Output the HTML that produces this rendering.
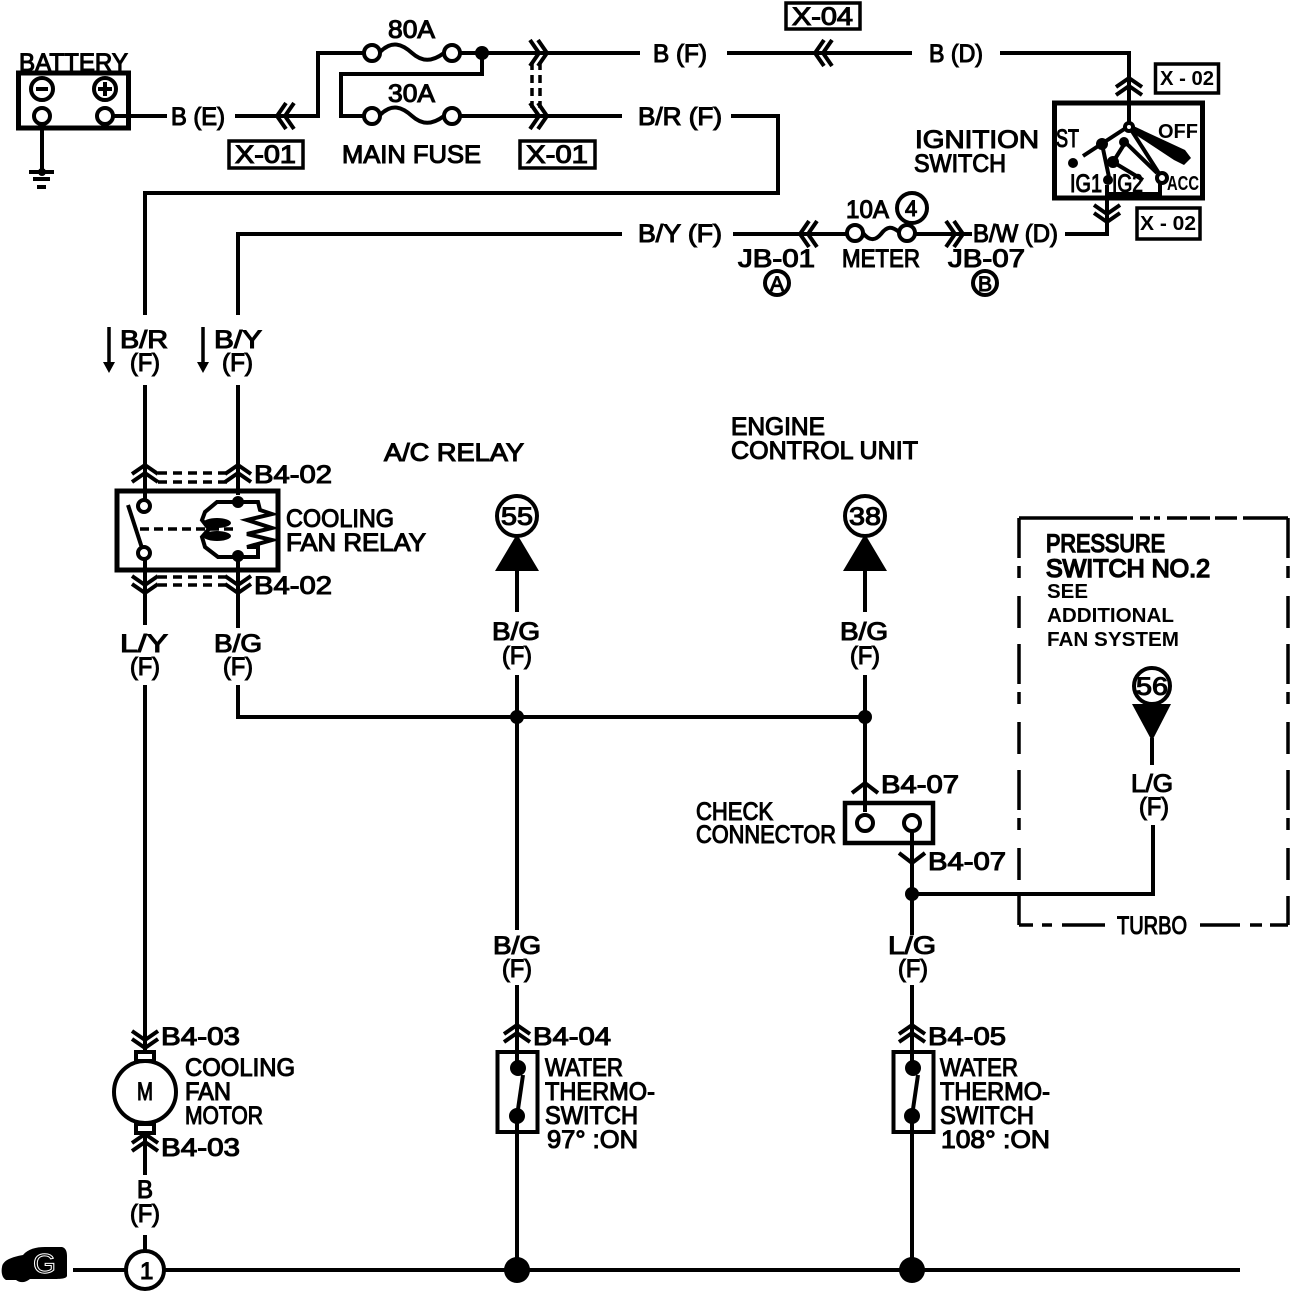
<!DOCTYPE html>
<html><head><meta charset="utf-8"><style>
html,body{margin:0;padding:0;background:#fff}
svg{display:block}
text{font-family:"Liberation Sans",sans-serif;font-weight:400;font-size:25px;fill:#000;stroke:#000;stroke-width:1.1px}
text.s{font-size:20px;font-weight:700;stroke:none}
.w{fill:none;stroke:#000;stroke-width:4;stroke-linejoin:miter}
.t{fill:none;stroke:#000;stroke-width:3.5}
.b{fill:none;stroke:#000;stroke-width:5}
.c{fill:#fff;stroke:#000;stroke-width:4}
.d{fill:#000;stroke:none}
</style></head><body>
<svg width="1312" height="1292" viewBox="0 0 1312 1292" xmlns="http://www.w3.org/2000/svg">
<defs>
<g id="u2"><path class="w" d="M-13 4 L0 -5 L13 4 M-13 12 L0 3 L13 12"/></g>
<g id="u1"><path class="w" d="M-13 5 L0 -5 L13 5"/></g>
</defs>
<rect width="1312" height="1292" fill="#fff"/>

<!-- battery -->
<rect class="b" x="18.5" y="73" width="110" height="55"/>
<circle class="c" cx="42" cy="89" r="11"/><path class="w" d="M36 89H48"/>
<circle class="c" cx="105" cy="89" r="11"/><path class="w" d="M98 89H112M105 82V96"/>
<circle class="c" cx="42" cy="116" r="8"/><circle class="c" cx="105" cy="116" r="8"/>
<path class="w" d="M42 124V172M29 172H54M33 179H50M37 187H46"/>
<circle class="d" cx="42" cy="172" r="4"/>
<path class="w" d="M113 116H167M235 116H318V53H364"/>
<use href="#u2" transform="translate(282,116) rotate(-90)"/>

<!-- main fuses -->
<circle class="c" cx="372" cy="53" r="8"/><circle class="c" cx="452" cy="53" r="8"/>
<path class="w" d="M380 52C392 40 402 44 412 53C422 62 432 62 444 53"/>
<circle class="c" cx="372" cy="116" r="8"/><circle class="c" cx="452" cy="116" r="8"/>
<path class="w" d="M380 115C392 103 402 107 412 116C422 125 432 125 444 116"/>
<path class="w" d="M460 53H640M482 53V74H341V116H364M460 116H622"/>
<circle class="d" cx="482" cy="53" r="7"/>
<path class="t" stroke-width="2.5" stroke-dasharray="8 5" d="M532 62V108M540 62V108"/>
<use href="#u2" transform="translate(542,53) rotate(90)"/>
<use href="#u2" transform="translate(542,116) rotate(90)"/>

<path class="w" d="M727 53H912"/>
<use href="#u2" transform="translate(820,53) rotate(-90)"/>
<path class="w" d="M1000 53H1129V125"/>
<use href="#u2" transform="translate(1129,83)"/>
<path class="w" d="M731 116H778V193H145V315"/>
<path class="w" d="M622 234H238V315"/>
<path class="w" d="M733 234H847M915 234H972M1065 234H1107V185"/>
<use href="#u2" transform="translate(805,234) rotate(-90)"/>
<use href="#u2" transform="translate(958,234) rotate(90)"/>
<use href="#u2" transform="translate(1107,217) rotate(180)"/>
<circle class="c" cx="855" cy="233" r="8"/><circle class="c" cx="907" cy="233" r="8"/>
<path class="w" d="M863 233C870 242 876 240 881 234C887 226 892 226 899 232"/>
<circle cx="912" cy="208" r="15" fill="#fff" stroke="#000" stroke-width="4"/>
<circle cx="777" cy="283" r="12" fill="#fff" stroke="#000" stroke-width="4"/>
<circle cx="985" cy="283" r="12" fill="#fff" stroke="#000" stroke-width="4"/>

<!-- ignition -->
<rect x="1054.5" y="103" width="148" height="95" fill="none" stroke="#000" stroke-width="5"/>
<path class="w" d="M1129 126L1083 156M1102 144L1110 182M1130 128L1160 175"/>
<path class="d" d="M1127 123L1185 150L1191 158L1184 165L1174 160L1127 129Z"/>
<path class="w" stroke-width="5" d="M1125 142L1157 173M1125 143L1113 162L1143 180"/>
<circle class="d" cx="1102" cy="144" r="6"/><circle class="d" cx="1124" cy="142" r="5"/><circle class="d" cx="1113" cy="162" r="6"/><circle class="d" cx="1108" cy="180" r="5"/>
<circle class="c" cx="1129" cy="127" r="4"/><circle class="c" cx="1162" cy="178" r="5"/>
<circle class="d" cx="1073" cy="163" r="5"/>
<path class="w" d="M1160 183V196M1108 194H1160"/>

<rect class="t" x="1155.5" y="64" width="63" height="29"/>
<rect class="t" x="1137" y="208" width="63" height="31"/>
<rect class="t" x="229" y="141" width="74" height="27"/>
<rect class="t" x="520" y="141" width="75" height="27"/>
<rect class="t" x="786" y="3" width="74" height="26"/>

<!-- down arrows -->
<path class="t" d="M109 327V368M203 327V368"/>
<path class="d" d="M103 362H115L109 373ZM197 362H209L203 373Z"/>

<!-- relay -->
<path class="w" d="M145 385V500M238 385V495M145 559V625M238 555V628"/>
<use href="#u2" transform="translate(145,470)"/>
<use href="#u2" transform="translate(238,470)"/>
<use href="#u2" transform="translate(145,588) rotate(180)"/>
<use href="#u2" transform="translate(238,588) rotate(180)"/>
<path class="t" stroke-width="2.5" stroke-dasharray="9 6" d="M158 473H228M158 482H228M158 577H228M158 585H228"/>
<rect x="117" y="491" width="161" height="79" fill="none" stroke="#000" stroke-width="5"/>
<circle class="c" cx="144" cy="506" r="6"/><circle class="c" cx="144" cy="553" r="6"/>
<path class="w" stroke-width="4" d="M128 505L142 548"/>
<path class="t" stroke-width="2.5" stroke-dasharray="9 5" d="M140 529H236"/>
<path class="w" d="M238 502H217L205 512L202 520L209 529L202 537L205 547L218 557H258V547H247L272 540L247 534L272 528L247 520L272 514L260 510L258 502H238"/>
<ellipse class="d" cx="217" cy="523" rx="14" ry="5"/><ellipse class="d" cx="217" cy="536" rx="14" ry="5"/>
<circle class="d" cx="238" cy="502" r="6"/><circle class="d" cx="238" cy="556" r="6"/>

<!-- main harness -->
<path class="w" d="M145 685V1030M238 685V717H865M517 612V570M865 612V570M517 675V930M517 985V1262M865 675V812M912 832V935M912 985V1262M912 894H1153V825M145 1134V1175M145 1235V1255"/>
<circle class="d" cx="517" cy="717" r="7"/><circle class="d" cx="865" cy="717" r="7"/><circle class="d" cx="912" cy="894" r="7"/>
<circle cx="517" cy="516" r="20" fill="#fff" stroke="#000" stroke-width="4"/>
<circle cx="865" cy="516" r="20" fill="#fff" stroke="#000" stroke-width="4"/>
<path class="d" d="M517 534L539 571H495ZM865 534L887 571H843Z"/>

<!-- turbo box -->
<path class="t" stroke-width="3" d="M1019 518H1133M1140 518H1150M1154 518H1160M1167 518H1187M1190 518H1210M1215 518H1237M1243 518H1288"/>
<path class="t" stroke-width="3" stroke-dasharray="40 8 12 18 32 16" d="M1288 518V925M1019 518V925"/>
<path class="t" stroke-width="3" d="M1200 925H1240M1250 925H1262M1270 925H1288M1105 925H1062M1052 925H1042M1033 925H1019"/>
<circle cx="1152" cy="686" r="18" fill="#fff" stroke="#000" stroke-width="4"/>
<path class="d" d="M1132 704H1171L1152 741Z"/>
<path class="w" d="M1152 738V765"/>

<!-- check connector -->
<use href="#u1" transform="translate(865,788)"/>
<use href="#u1" transform="translate(912,858) rotate(180)"/>
<rect x="845" y="803" width="88" height="40" fill="none" stroke="#000" stroke-width="4.5"/>
<circle class="c" cx="865" cy="823" r="8"/><circle class="c" cx="912" cy="823" r="8"/>

<!-- motor -->
<use href="#u2" transform="translate(145,1043) rotate(180)"/>
<path class="w" d="M145 1028V1052"/>
<circle cx="145" cy="1092" r="31" fill="#fff" stroke="#000" stroke-width="4"/>
<rect x="136" y="1052" width="18" height="9" fill="#fff" stroke="#000" stroke-width="4"/>
<rect x="136" y="1124" width="18" height="9" fill="#fff" stroke="#000" stroke-width="4"/>
<use href="#u2" transform="translate(145,1139)"/>

<!-- thermo switches -->
<use href="#u2" transform="translate(517,1030)"/>
<use href="#u2" transform="translate(912,1030)"/>
<rect x="497.5" y="1052" width="40" height="80" fill="#fff" stroke="#000" stroke-width="4"/>
<rect x="893.5" y="1052" width="40" height="80" fill="#fff" stroke="#000" stroke-width="4"/>
<path class="w" d="M517 1025V1068M517 1116V1130M912 1025V1068M912 1116V1130"/>
<path class="w" stroke-width="4.5" d="M523 1075L517 1116M918 1075L912 1116"/>
<circle class="d" cx="518" cy="1068" r="8"/><circle class="d" cx="517" cy="1116" r="8"/>
<circle class="d" cx="913" cy="1068" r="8"/><circle class="d" cx="912" cy="1116" r="8"/>

<!-- ground bus -->
<path class="w" d="M73 1270H127M165 1270H1240"/>
<circle cx="145" cy="1270" r="19" fill="#fff" stroke="#000" stroke-width="4"/>
<circle class="d" cx="517" cy="1270" r="13"/><circle class="d" cx="912" cy="1270" r="13"/>
<path class="d" d="M2 1267C3 1260 12 1257 23 1255C28 1249 36 1247 45 1247H62C66 1248 67 1252 67 1256V1276C66 1279 60 1279 50 1279H30C25 1283 20 1283 16 1280H6C2 1278 1 1272 2 1267Z"/>

<!-- labels -->
<text x="19" y="71" textLength="109" lengthAdjust="spacingAndGlyphs">BATTERY</text>
<text x="171" y="125" textLength="54" lengthAdjust="spacingAndGlyphs">B (E)</text>
<text x="235" y="163" textLength="61" lengthAdjust="spacingAndGlyphs">X-01</text>
<text x="388" y="38" textLength="47" lengthAdjust="spacingAndGlyphs">80A</text>
<text x="388" y="102" textLength="47" lengthAdjust="spacingAndGlyphs">30A</text>
<text x="342" y="163" textLength="139" lengthAdjust="spacingAndGlyphs">MAIN FUSE</text>
<text x="526" y="163" textLength="62" lengthAdjust="spacingAndGlyphs">X-01</text>
<text x="653" y="62" textLength="54" lengthAdjust="spacingAndGlyphs">B (F)</text>
<text x="638" y="125" textLength="84" lengthAdjust="spacingAndGlyphs">B/R (F)</text>
<text x="792" y="25" textLength="61" lengthAdjust="spacingAndGlyphs">X-04</text>
<text x="929" y="62" textLength="54" lengthAdjust="spacingAndGlyphs">B (D)</text>
<text class="s" x="1160" y="85" textLength="54" lengthAdjust="spacingAndGlyphs">X - 02</text>
<text class="s" x="1140" y="230" textLength="56" lengthAdjust="spacingAndGlyphs">X - 02</text>
<text x="915" y="148" textLength="124" lengthAdjust="spacingAndGlyphs">IGNITION</text>
<text x="914" y="172" textLength="92" lengthAdjust="spacingAndGlyphs">SWITCH</text>
<text x="1056" y="147" textLength="23" lengthAdjust="spacingAndGlyphs">ST</text>
<text class="s" x="1158" y="138" textLength="40" lengthAdjust="spacingAndGlyphs">OFF</text>
<text x="1070" y="192" textLength="32" lengthAdjust="spacingAndGlyphs">IG1</text>
<text x="1112" y="192" textLength="31" lengthAdjust="spacingAndGlyphs">IG2</text>
<text class="s" x="1167" y="190" textLength="32" lengthAdjust="spacingAndGlyphs">ACC</text>
<text x="973" y="242" textLength="85" lengthAdjust="spacingAndGlyphs">B/W (D)</text>
<text x="638" y="242" textLength="84" lengthAdjust="spacingAndGlyphs">B/Y (F)</text>
<text x="846" y="218" textLength="43" lengthAdjust="spacingAndGlyphs">10A</text>
<text x="905" y="216" style="font-size:22px">4</text>
<text x="738" y="267" textLength="77" lengthAdjust="spacingAndGlyphs">JB-01</text>
<text x="842" y="267" textLength="78" lengthAdjust="spacingAndGlyphs">METER</text>
<text x="948" y="267" textLength="77" lengthAdjust="spacingAndGlyphs">JB-07</text>
<text x="770" y="291" style="font-size:21px">A</text>
<text x="978" y="291" style="font-size:21px">B</text>
<text x="120" y="348" textLength="48" lengthAdjust="spacingAndGlyphs">B/R</text>
<text x="130" y="371" textLength="30" lengthAdjust="spacingAndGlyphs">(F)</text>
<text x="214" y="348" textLength="48" lengthAdjust="spacingAndGlyphs">B/Y</text>
<text x="222" y="371" textLength="31" lengthAdjust="spacingAndGlyphs">(F)</text>
<text x="384" y="461" textLength="140" lengthAdjust="spacingAndGlyphs">A/C RELAY</text>
<text x="731" y="435" textLength="94" lengthAdjust="spacingAndGlyphs">ENGINE</text>
<text x="731" y="459" textLength="187" lengthAdjust="spacingAndGlyphs">CONTROL UNIT</text>
<text x="254" y="483" textLength="78" lengthAdjust="spacingAndGlyphs">B4-02</text>
<text x="254" y="594" textLength="78" lengthAdjust="spacingAndGlyphs">B4-02</text>
<text x="286" y="527" textLength="108" lengthAdjust="spacingAndGlyphs">COOLING</text>
<text x="286" y="551" textLength="140" lengthAdjust="spacingAndGlyphs">FAN RELAY</text>
<text x="501" y="525" textLength="32" lengthAdjust="spacingAndGlyphs">55</text>
<text x="849" y="525" textLength="32" lengthAdjust="spacingAndGlyphs">38</text>
<text x="1136" y="695" textLength="32" lengthAdjust="spacingAndGlyphs">56</text>
<text x="492" y="640" textLength="48" lengthAdjust="spacingAndGlyphs">B/G</text>
<text x="502" y="664" textLength="30" lengthAdjust="spacingAndGlyphs">(F)</text>
<text x="840" y="640" textLength="48" lengthAdjust="spacingAndGlyphs">B/G</text>
<text x="850" y="664" textLength="30" lengthAdjust="spacingAndGlyphs">(F)</text>
<text x="120" y="652" textLength="48" lengthAdjust="spacingAndGlyphs">L/Y</text>
<text x="130" y="675" textLength="30" lengthAdjust="spacingAndGlyphs">(F)</text>
<text x="214" y="652" textLength="48" lengthAdjust="spacingAndGlyphs">B/G</text>
<text x="223" y="675" textLength="30" lengthAdjust="spacingAndGlyphs">(F)</text>
<text x="1046" y="552" textLength="119" lengthAdjust="spacingAndGlyphs" style="stroke-width:1.6px">PRESSURE</text>
<text x="1046" y="577" textLength="164" lengthAdjust="spacingAndGlyphs" style="stroke-width:1.6px">SWITCH NO.2</text>
<text class="s" x="1047" y="598" textLength="41" lengthAdjust="spacingAndGlyphs">SEE</text>
<text class="s" x="1047" y="622" textLength="127" lengthAdjust="spacingAndGlyphs">ADDITIONAL</text>
<text class="s" x="1047" y="646" textLength="132" lengthAdjust="spacingAndGlyphs">FAN SYSTEM</text>
<text x="1131" y="792" textLength="42" lengthAdjust="spacingAndGlyphs">L/G</text>
<text x="1139" y="815" textLength="30" lengthAdjust="spacingAndGlyphs">(F)</text>
<text x="1117" y="934" textLength="70" lengthAdjust="spacingAndGlyphs">TURBO</text>
<text x="696" y="820" textLength="77" lengthAdjust="spacingAndGlyphs">CHECK</text>
<text x="696" y="843" textLength="140" lengthAdjust="spacingAndGlyphs">CONNECTOR</text>
<text x="881" y="793" textLength="78" lengthAdjust="spacingAndGlyphs">B4-07</text>
<text x="928" y="870" textLength="78" lengthAdjust="spacingAndGlyphs">B4-07</text>
<text x="888" y="954" textLength="48" lengthAdjust="spacingAndGlyphs">L/G</text>
<text x="898" y="977" textLength="30" lengthAdjust="spacingAndGlyphs">(F)</text>
<text x="493" y="954" textLength="48" lengthAdjust="spacingAndGlyphs">B/G</text>
<text x="502" y="977" textLength="30" lengthAdjust="spacingAndGlyphs">(F)</text>
<text x="161" y="1045" textLength="79" lengthAdjust="spacingAndGlyphs">B4-03</text>
<text x="161" y="1156" textLength="79" lengthAdjust="spacingAndGlyphs">B4-03</text>
<text x="533" y="1045" textLength="78" lengthAdjust="spacingAndGlyphs">B4-04</text>
<text x="928" y="1045" textLength="78" lengthAdjust="spacingAndGlyphs">B4-05</text>
<text x="137" y="1100" textLength="16" lengthAdjust="spacingAndGlyphs">M</text>
<text x="185" y="1076" textLength="110" lengthAdjust="spacingAndGlyphs">COOLING</text>
<text x="185" y="1100" textLength="46" lengthAdjust="spacingAndGlyphs">FAN</text>
<text x="185" y="1124" textLength="78" lengthAdjust="spacingAndGlyphs">MOTOR</text>
<text x="545" y="1076" textLength="78" lengthAdjust="spacingAndGlyphs">WATER</text>
<text x="545" y="1100" textLength="110" lengthAdjust="spacingAndGlyphs">THERMO-</text>
<text x="545" y="1124" textLength="93" lengthAdjust="spacingAndGlyphs">SWITCH</text>
<text x="547" y="1148" textLength="91" lengthAdjust="spacingAndGlyphs">97° :ON</text>
<text x="940" y="1076" textLength="78" lengthAdjust="spacingAndGlyphs">WATER</text>
<text x="940" y="1100" textLength="110" lengthAdjust="spacingAndGlyphs">THERMO-</text>
<text x="940" y="1124" textLength="94" lengthAdjust="spacingAndGlyphs">SWITCH</text>
<text x="941" y="1148" textLength="109" lengthAdjust="spacingAndGlyphs">108° :ON</text>
<text x="137" y="1198" textLength="16" lengthAdjust="spacingAndGlyphs">B</text>
<text x="130" y="1222" textLength="30" lengthAdjust="spacingAndGlyphs">(F)</text>
<text x="140" y="1279" style="font-size:24px">1</text>
<text x="33" y="1273" textLength="23" lengthAdjust="spacingAndGlyphs" style="font-size:28px;fill:#000;stroke:#fff;stroke-width:1px">G</text>
</svg>
</body></html>
